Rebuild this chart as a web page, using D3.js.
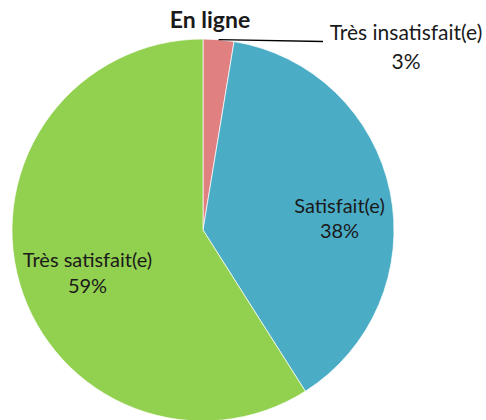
<!DOCTYPE html>
<html>
<head>
<meta charset="utf-8">
<script src="https://cdn.jsdelivr.net/npm/d3@7"></script>
<style>
  body { margin: 0; background: #fff; }
  text { font-family: Lato, "Open Sans", sans-serif; fill: #1a1a1a; }
</style>
</head>
<body>
<svg id="chart" width="486" height="420"></svg>
<script>
var categories = ['Très insatisfait(e)', 'Satisfait(e)', 'Très satisfait(e)'];
var values = [2.6, 38.4, 59.0];
var percentLabels = ['3%', '38%', '59%'];
var colors = ['#E08080', '#4BACC6', '#92D050'];

var svg = d3.select('#chart');
var cx = 203, cy = 230, radius = 191;

var pie = d3.pie().sort(null).value(function(d){ return d; });
var arc = d3.arc().innerRadius(0).outerRadius(radius);
var arcs = pie(values);

var g = svg.append('g').attr('transform', 'translate(' + cx + ',' + cy + ')');

g.selectAll('path.slice')
  .data(arcs)
  .enter().append('path')
  .attr('class', 'slice')
  .attr('d', arc)
  .style('fill', function(d, i){ return colors[i]; })
  .style('stroke', '#fff')
  .style('stroke-width', 0.7);

// label spots relative to pie center
var labelPos = [
  { x: 203, y: -190, size: 21, gap: 29 },
  { x: 136.5, y: -17, size: 20, gap: 25 },
  { x: -115.5, y: 37, size: 20, gap: 26 }
];

[1, 2].forEach(function(i){
  var t = g.append('text')
    .attr('text-anchor', 'middle')
    .style('font-size', labelPos[i].size + 'px');
  t.append('tspan').attr('x', labelPos[i].x).attr('y', labelPos[i].y).text(categories[i]);
  t.append('tspan').attr('x', labelPos[i].x).attr('y', labelPos[i].y + labelPos[i].gap).text(percentLabels[i]);
});

// small slice: label outside with a leader line from the arc edge
var midAngle = (arcs[0].startAngle + arcs[0].endAngle) / 2;
var sx = Math.sin(midAngle) * radius, sy = -Math.cos(midAngle) * radius;
g.append('line')
  .attr('x1', sx).attr('y1', sy)
  .attr('x2', 120).attr('y2', -188.5)
  .style('stroke', '#000')
  .style('stroke-width', 1.3);
var t0 = g.append('text')
  .attr('text-anchor', 'middle')
  .style('font-size', labelPos[0].size + 'px');
t0.append('tspan').attr('x', labelPos[0].x).attr('y', labelPos[0].y).text(categories[0]);
t0.append('tspan').attr('x', labelPos[0].x).attr('y', labelPos[0].y + labelPos[0].gap).text(percentLabels[0]);

svg.append('text')
  .attr('x', 210).attr('y', 28)
  .attr('text-anchor', 'middle')
  .style('font-size', '23px')
  .style('font-weight', 'bold')
  .text('En ligne');
</script>
</body>
</html>
